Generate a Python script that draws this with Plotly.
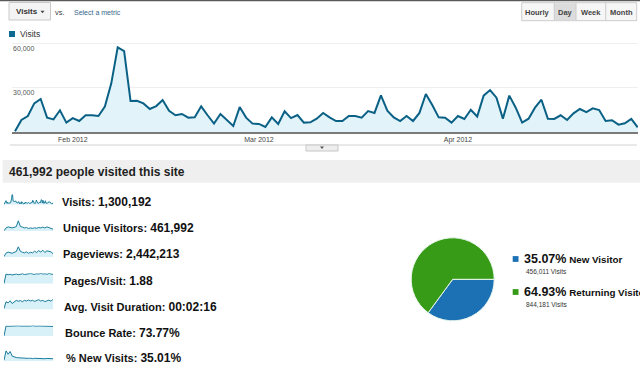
import plotly.graph_objects as go
import pandas as pd

W, H = 640, 366


def fx(x):
    return x / W


def fy(y):
    return 1 - y / H


# ---------------- data ----------------
start_date = "2012-01-23"
end_date = "2012-04-29"
visits = [
    500, 8200, 10900, 19500, 22500, 9800, 8600, 14800, 6400, 9500,
    7500, 11400, 11400, 10900, 17300, 33200, 57700, 55200, 21100, 21300,
    19500, 15700, 17700, 21800, 14500, 11400, 12300, 9800, 10000, 17500,
    11400, 5700, 12300, 8200, 4100, 17000, 9800, 5700, 5500, 3400,
    10000, 5500, 14100, 9500, 11600, 6400, 6600, 9100, 13000, 10000,
    7500, 7500, 10900, 10900, 9800, 14300, 13000, 25000, 14500, 10000,
    7500, 10900, 7500, 13000, 25900, 18400, 10000, 9800, 6400, 10900,
    8900, 15200, 10600, 24800, 28600, 23400, 9100, 24800, 16600, 6400,
    9100, 16600, 22000, 9100, 8900, 11400, 8200, 12700, 15700, 13600,
    16100, 15000, 7500, 8000, 5000, 5900, 8900, 3200,
]
month_ticks = ["2012-02-01", "2012-03-01", "2012-04-01"]
month_labels = ["Feb 2012", "Mar 2012", "Apr 2012"]
y_ticks = [30000, 60000]
y_tick_labels = ["30,000", "60,000"]

metric_names = ["Visits", "Unique Visitors", "Pageviews", "Pages/Visit",
                "Avg. Visit Duration", "Bounce Rate", "% New Visits"]
metric_values = ["1,300,192", "461,992", "2,442,213", "1.88",
                 "00:02:16", "73.77%", "35.01%"]

spark_unique = [2, 30, 40, 35, 30, 36, 42, 100, 45, 38, 30, 34, 24, 30, 25,
                31, 27, 34, 30, 38, 29, 40, 34, 31, 18]
spark_pageviews = [4, 38, 48, 42, 36, 46, 52, 100, 56, 46, 40, 50, 36, 46, 40,
                   56, 44, 62, 48, 66, 44, 60, 54, 50, 32]
spark_pages_visit = [0, 80, 74, 78, 72, 77, 80, 74, 79, 82, 76, 80, 78, 84, 80,
                     77, 82, 80, 85, 80, 82, 78, 84, 80, 77]
spark_duration = [8, 68, 58, 76, 52, 70, 80, 72, 78, 68, 80, 74, 83, 75, 80,
                  71, 78, 86, 74, 80, 69, 78, 82, 72, 90]
spark_bounce = [0, 86, 83, 85, 84, 86, 85, 87, 85, 84, 86, 86, 84, 85, 88,
                85, 84, 86, 85, 84, 86, 85, 87, 85, 82]
spark_new_pct = [6, 95, 62, 88, 45, 36, 32, 30, 28, 27, 25, 27, 24, 26, 22,
                 25, 23, 24, 22, 23, 21, 24, 22, 20, 21]

visitor_types = ["New Visitor", "Returning Visitor"]
visitor_visits = [456011, 844181]
visitor_pct = ["35.07%", "64.93%"]
visitor_visits_text = ["456,011 Visits", "844,181 Visits"]

# ---------------- styles ----------------
FONT = "Liberation Sans, Arial, sans-serif"
LINE = "#0b6185"
FILL = "#e2f4fa"
SPARK_LINE = "#1a7c9c"
SPARK_FILL = "#d8f0f7"
PIE_COLORS = ["#1c70b4", "#389b17"]

dates = pd.date_range(start_date, end_date, freq="D")

fig = go.Figure()

# main area chart
fig.add_trace(go.Scatter(
    x=dates, y=visits, mode="lines",
    line=dict(color=LINE, width=2),
    fill="tozeroy", fillcolor=FILL,
    hoverinfo="skip", xaxis="x", yaxis="y",
))

layout_axes = {}
layout_axes["xaxis"] = dict(
    domain=[fx(12), fx(638)],
    range=["2012-01-22 12:47", "2012-04-29 01:07"],
    type="date",
    tickmode="array", tickvals=month_ticks, ticktext=month_labels,
    tickfont=dict(size=7, color="#444", family=FONT),
    showgrid=False, zeroline=False,
    showline=True, linecolor="#7a7a7a", linewidth=1.5,
    ticks="", anchor="y", fixedrange=True,
)
layout_axes["yaxis"] = dict(
    domain=[fy(132), fy(132 - 66000 / 681.8)],
    range=[0, 66000],
    tickmode="array", tickvals=y_ticks,
    showticklabels=False, showgrid=True, gridcolor="#efefef", gridwidth=1,
    zeroline=False, showline=False, anchor="x", fixedrange=True,
)

# sparklines
spark_series = [visits, spark_unique, spark_pageviews, spark_pages_visit,
                spark_duration, spark_bounce, spark_new_pct]
row_y = [201.7, 228, 254, 280.7, 306.5, 333, 358]

for i, series in enumerate(spark_series):
    n = i + 2
    fig.add_trace(go.Scatter(
        x=list(range(len(series))), y=series, mode="lines",
        line=dict(color=SPARK_LINE, width=1),
        fill="tozeroy", fillcolor=SPARK_FILL,
        hoverinfo="skip", xaxis=f"x{n}", yaxis=f"y{n}",
    ))
    cy = row_y[i]
    layout_axes[f"xaxis{n}"] = dict(
        domain=[fx(4), fx(53)], range=[0, len(series) - 1],
        visible=False, anchor=f"y{n}", fixedrange=True,
    )
    layout_axes[f"yaxis{n}"] = dict(
        domain=[fy(cy + 3), fy(cy - 7.5)], range=[0, max(series) * 1.02],
        visible=False, anchor=f"x{n}", fixedrange=True,
    )

# pie
pcx, pcy, pr = 452.7, 279.3, 41.5
fig.add_trace(go.Pie(
    labels=visitor_types, values=visitor_visits,
    marker=dict(colors=PIE_COLORS, line=dict(color="#e9f7ee", width=1)),
    sort=False, direction="clockwise", rotation=90,
    textinfo="none", hoverinfo="skip", showlegend=False,
    domain=dict(x=[fx(pcx - pr), fx(pcx + pr)], y=[fy(pcy + pr), fy(pcy - pr)]),
))

shapes = []
annotations = []


def rect(x0, y0, x1, y1, fill, line=None, lw=1):
    shapes.append(dict(
        type="rect", xref="paper", yref="paper",
        x0=fx(x0), x1=fx(x1), y0=fy(y1), y1=fy(y0),
        fillcolor=fill, line=dict(color=line or fill, width=lw if line else 0),
        layer="above",
    ))


def hline(x0, x1, y, color, w=1):
    shapes.append(dict(type="line", xref="paper", yref="paper",
                       x0=fx(x0), x1=fx(x1), y0=fy(y), y1=fy(y),
                       line=dict(color=color, width=w), layer="above"))


def vline(x, y0, y1, color, w=1):
    shapes.append(dict(type="line", xref="paper", yref="paper",
                       x0=fx(x), x1=fx(x), y0=fy(y0), y1=fy(y1),
                       line=dict(color=color, width=w), layer="above"))


def tri(cx, cy, w, h, color):
    path = (f"M {fx(cx - w / 2)} {fy(cy - h / 2)} L {fx(cx + w / 2)} {fy(cy - h / 2)} "
            f"L {fx(cx)} {fy(cy + h / 2)} Z")
    shapes.append(dict(type="path", xref="paper", yref="paper", path=path,
                       fillcolor=color, line=dict(width=0), layer="above"))


def text(x, y, s, size, color="#222", anchor="left"):
    annotations.append(dict(
        xref="paper", yref="paper", x=fx(x), y=fy(y), text=s,
        showarrow=False, xanchor=anchor, yanchor="middle",
        font=dict(size=size, color=color, family=FONT),
    ))


# top border line
hline(0, 640, 0.5, "#5a5a5a", 1.5)

# metric dropdown
rect(9, 2.5, 50.5, 20, "#f4f4f4", "#c9c9c9")
text(14, 11.5, "<b>Visits</b>", 8, "#333")
tri(42.5, 12, 4, 2.5, "#444")
text(53, 12, "vs.", 7.5, "#444")
text(72, 12, "Select a metric", 7, "#35678a")

# granularity buttons
rect(521.7, 2.7, 636.7, 20.7, "#f6f6f6", "#cccccc")
rect(554.3, 3.2, 576, 20.2, "#dcdcdc")
for xd in [554.3, 576, 605.7]:
    vline(xd, 2.7, 20.7, "#cccccc")
for lbl, cx in zip(["Hourly", "Day", "Week", "Month"], [537.9, 565.1, 590.8, 621.2]):
    text(cx, 12, f"<b>{lbl}</b>", 7.5, "#444", anchor="center")

# chart legend
rect(9, 31, 15, 37, "#0e6a93")
text(18, 34, "Visits", 8.5, "#333")

# y labels
for v, lbl in zip(y_ticks, y_tick_labels):
    annotations.append(dict(
        xref="paper", yref="y", x=fx(10.5), y=v, yshift=-4.5, text=lbl,
        showarrow=False, xanchor="left", yanchor="middle",
        font=dict(size=7, color="#555", family=FONT),
    ))

# scroll strip under chart
hline(10, 637, 145, "#d2d2d2", 1)
rect(306, 145, 338, 151, "#eeeeee", "#c6c6c6")
tri(322, 147.7, 4, 2.4, "#555")

# summary band
rect(2.7, 160, 640, 182.7, "#efefef")
text(7, 171.5, "<b>461,992 people visited this site</b>", 12, "#1e1e1e")

# metrics
for i, (name, val) in enumerate(zip(metric_names, metric_values)):
    text(60 + i * 0.6, row_y[i],
         f"<b>{name}: <span style='font-size:12px'>{val}</span></b>", 11, "#111")

# pie legend
leg_y = [259, 292]
sub_y = [271, 304]
for i in range(2):
    rect(512.7, leg_y[i] - 2.9, 518.5, leg_y[i] + 2.9, PIE_COLORS[i])
    text(522, leg_y[i],
         f"<b><span style='font-size:12.5px'>{visitor_pct[i]}</span> {visitor_types[i]}</b>",
         9.8, "#111")
    text(523.5, sub_y[i], visitor_visits_text[i], 6.5, "#333")

fig.update_layout(
    width=W, height=H,
    margin=dict(l=0, r=0, t=0, b=0),
    paper_bgcolor="white", plot_bgcolor="rgba(0,0,0,0)",
    showlegend=False,
    font=dict(family=FONT),
    shapes=shapes, annotations=annotations,
    **layout_axes,
)

fig.write_html("out.html", config=dict(displayModeBar=False))
